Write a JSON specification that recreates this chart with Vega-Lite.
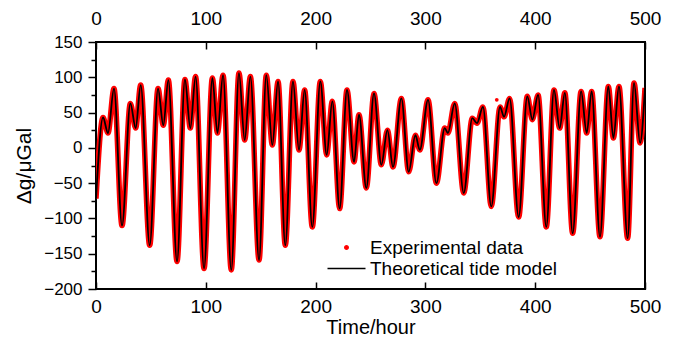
{
  "$schema": "https://vega.github.io/schema/vega-lite/v6.json",
  "width": 549,
  "height": 247,
  "autosize": {"type": "none"},
  "padding": {"left": 96, "top": 42, "right": 30, "bottom": 52},
  "background": "white",
  "datasets": {
    "tide": [
      {"t": 0, "g": -72}, {"t": 6.4, "g": 43}, {"t": 10.9, "g": 21}, {"t": 16.4, "g": 84},
      {"t": 23.7, "g": -110}, {"t": 31.3, "g": 63}, {"t": 36.1, "g": 28}, {"t": 40.7, "g": 89},
      {"t": 48.9, "g": -138}, {"t": 56.5, "g": 84}, {"t": 61.3, "g": 32}, {"t": 65.9, "g": 96},
      {"t": 73.8, "g": -161}, {"t": 81.0, "g": 97}, {"t": 85.9, "g": 28}, {"t": 90.7, "g": 101},
      {"t": 98.4, "g": -171}, {"t": 106.0, "g": 99}, {"t": 110.6, "g": 21}, {"t": 115.7, "g": 103},
      {"t": 123.2, "g": -173}, {"t": 130.2, "g": 106}, {"t": 135.4, "g": 11}, {"t": 140.6, "g": 101},
      {"t": 148.5, "g": -159}, {"t": 155.1, "g": 103}, {"t": 160.6, "g": 4}, {"t": 165.8, "g": 94},
      {"t": 172.4, "g": -138}, {"t": 179.4, "g": 94}, {"t": 184.9, "g": -3}, {"t": 190.0, "g": 82},
      {"t": 197.0, "g": -112}, {"t": 204.3, "g": 94}, {"t": 210.1, "g": -10}, {"t": 215.2, "g": 66},
      {"t": 221.9, "g": -86}, {"t": 228.6, "g": 82}, {"t": 235.0, "g": -20}, {"t": 239.5, "g": 47},
      {"t": 246.2, "g": -57}, {"t": 253.2, "g": 77}, {"t": 259.9, "g": -24}, {"t": 265.4, "g": 25},
      {"t": 270.5, "g": -27}, {"t": 278.1, "g": 70}, {"t": 284.8, "g": -34}, {"t": 290.9, "g": 18},
      {"t": 294.9, "g": -3}, {"t": 302.4, "g": 68}, {"t": 310.0, "g": -50}, {"t": 317.6, "g": 28},
      {"t": 320.5, "g": 21}, {"t": 326.7, "g": 63}, {"t": 334.9, "g": -64}, {"t": 342.7, "g": 42},
      {"t": 347.0, "g": 35}, {"t": 352.4, "g": 58}, {"t": 360.0, "g": -83}, {"t": 368.0, "g": 58},
      {"t": 371.6, "g": 44}, {"t": 376.7, "g": 70}, {"t": 384.9, "g": -98}, {"t": 392.8, "g": 73},
      {"t": 397.4, "g": 40}, {"t": 402.6, "g": 75}, {"t": 410.1, "g": -112}, {"t": 417.1, "g": 82},
      {"t": 422.3, "g": 28}, {"t": 427.0, "g": 78}, {"t": 434.1, "g": -121}, {"t": 441.8, "g": 80},
      {"t": 446.9, "g": 21}, {"t": 451.4, "g": 80}, {"t": 459.0, "g": -126}, {"t": 466.6, "g": 87},
      {"t": 471.2, "g": 14}, {"t": 476.3, "g": 87}, {"t": 484.2, "g": -128}, {"t": 490.0, "g": 92},
      {"t": 495.5, "g": 7}, {"t": 500, "g": 85}
    ],
    "outliers": [
      {"t": 365, "g": 68}
    ]
  },
  "config": {
    "view": {"stroke": "black", "strokeWidth": 2},
    "font": "Liberation Sans",
    "axis": {
      "grid": false,
      "domain": false,
      "tickColor": "black",
      "tickWidth": 1.5,
      "labelColor": "black",
      "titleColor": "black",
      "labelFont": "Liberation Sans",
      "titleFont": "Liberation Sans",
      "titleFontWeight": "normal",
      "labelFlush": false
    }
  },
  "resolve": {"axis": {"x": "independent", "y": "independent"}},
  "layer": [
    {
      "data": {"name": "tide"},
      "mark": {"type": "line", "interpolate": "monotone", "strokeWidth": 5.5, "clip": true},
      "encoding": {
        "x": {
          "field": "t", "type": "quantitative",
          "scale": {"domain": [0, 500], "nice": false},
          "axis": {
            "orient": "bottom", "values": [0, 100, 200, 300, 400, 500],
            "tickSize": -7, "labelPadding": 15, "labelFontSize": 19, "labelFlush": false,
            "title": "Time/hour", "titleFontSize": 20, "titlePadding": 1
          }
        },
        "y": {
          "field": "g", "type": "quantitative",
          "scale": {"domain": [-200, 150], "nice": false},
          "axis": {
            "orient": "left", "values": [-200, -150, -100, -50, 0, 50, 100, 150],
            "tickSize": 8, "labelPadding": 6, "labelFontSize": 17,
            "title": "Δg/μGal", "titleFontSize": 21, "titlePadding": 9
          }
        },
        "color": {
          "datum": "Experimental data",
          "scale": {"domain": ["Experimental data", "Theoretical tide model"], "range": ["#ff0000", "#000000"]},
          "legend": {
            "orient": "none", "legendX": 241, "legendY": 196,
            "title": null, "padding": 0,
            "labelFont": "Liberation Sans", "labelFontSize": 19, "labelColor": "black", "labelLimit": 400,
            "symbolType": "M-9.5,0H9.5", "symbolSize": 16, "symbolStrokeWidth": 1.5,
            "labelOffset": 14, "rowPadding": 1,
            "encode": {
              "symbols": {
                "update": {
                  "shape": {"signal": "datum.value === 'Experimental data' ? 'circle' : 'M-9.5,0H9.5'"},
                  "size": {"signal": "datum.value === 'Experimental data' ? 12 : 16"},
                  "fill": {"signal": "datum.value === 'Experimental data' ? '#ff0000' : 'transparent'"},
                  "stroke": {"signal": "datum.value === 'Experimental data' ? 'transparent' : '#000000'"},
                  "strokeWidth": {"value": 1.5}
                }
              }
            }
          }
        }
      }
    },
    {
      "data": {"name": "tide"},
      "mark": {"type": "line", "interpolate": "monotone", "strokeWidth": 1.8, "clip": true},
      "encoding": {
        "x": {
          "field": "t", "type": "quantitative",
          "axis": {
            "orient": "top", "values": [0, 100, 200, 300, 400, 500],
            "tickSize": -7, "labelPadding": 21, "labelFontSize": 19, "labelFlush": false, "title": null
          }
        },
        "y": {
          "field": "g", "type": "quantitative",
          "axis": {
            "orient": "left", "values": [-175, -125, -75, -25, 25, 75, 125],
            "tickSize": 5, "labels": false, "title": null
          }
        },
        "color": {"datum": "Theoretical tide model"}
      }
    },
    {
      "data": {"name": "outliers"},
      "mark": {"type": "point", "filled": true, "size": 14, "color": "#ff0000", "opacity": 1},
      "encoding": {
        "x": {"field": "t", "type": "quantitative", "axis": null},
        "y": {"field": "g", "type": "quantitative", "axis": null}
      }
    }
  ]
}
